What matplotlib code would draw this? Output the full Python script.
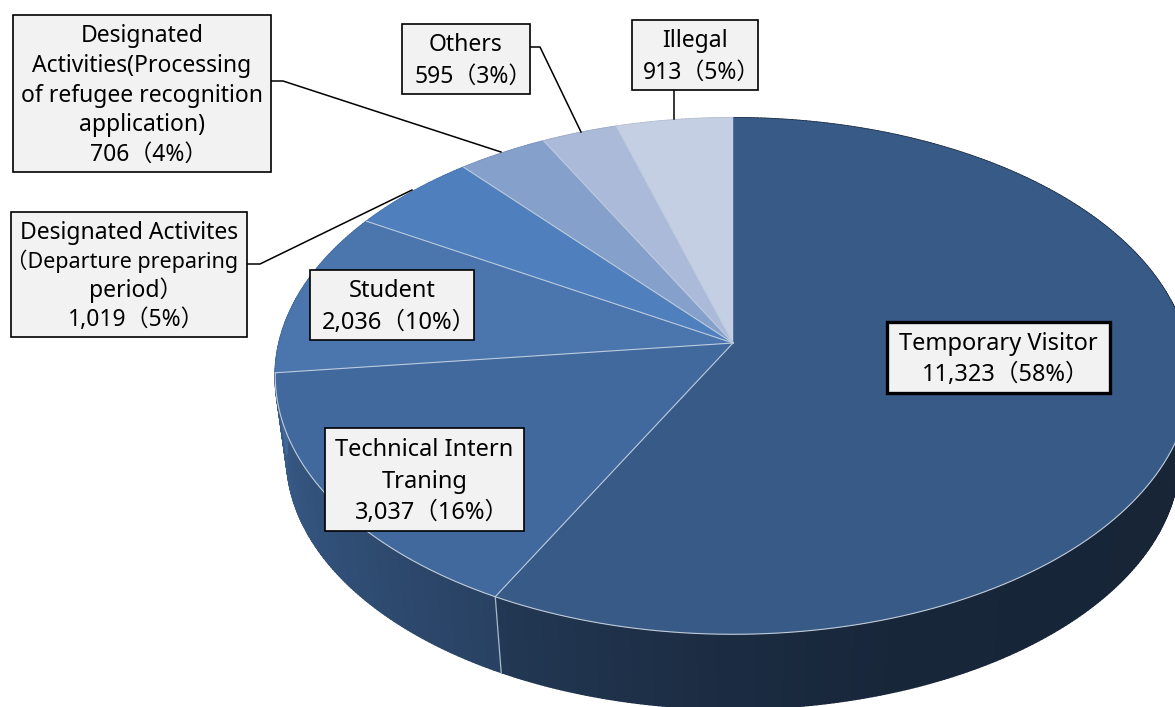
import numpy as np, matplotlib.pyplot as plt
from matplotlib.collections import PolyCollection
from matplotlib.patches import Rectangle

plt.rcParams['font.family'] = ['Noto Sans', 'Noto Sans CJK JP', 'DejaVu Sans']

# data, clockwise from the top
names = ["Temporary Visitor", "Technical Intern\nTraning", "Student",
         "Designated Activites\n（Departure preparing\nperiod）",
         "Designated\nActivities(Processing\nof refugee recognition\napplication)",
         "Others", "Illegal"]
counts = [11323, 3037, 2036, 1019, 706, 595, 913]
count_labels = ["11,323", "3,037", "2,036", "1,019", "706", "595", "913"]
percents = [58, 16, 10, 5, 4, 3, 5]
colors = ["#385a87", "#41699e", "#4a75ad", "#4f7fbc", "#85a0cb", "#abbad9", "#c4cfe3"]

# label boxes: left, top, right, bottom in pixels
boxes = [(887, 322, 1110, 393), (325, 428, 524, 531), (310, 270, 474, 340),
         (11, 212, 247, 337), (13, 15, 271, 172), (402, 24, 530, 94), (632, 20, 758, 90)]
box_widths = [2.4, 1.2, 1.2, 1.2, 1.2, 1.2, 1.2]
line_pitch = [32, 32, 32, 29, 29.7, 32.5, 32]
font_sizes = [17, 17, 17, 16.5, 16.5, 16.5, 16.5]
leaders = [None, None, None,
           ([248, 260, 412], [264, 264, 190]),
           ([271, 283, 501], [81, 81, 152]),
           ([530, 540, 581], [47, 47, 132]),
           ([674, 674], [90, 119])]

# tilted disc
cx, cy, rx, ry, k = 733, 343, 454, 254, 0.128
depth, shrink = 82, 0.975
shade_at = [90, 160, 180, 207, 263, 360]
shade_val = [0.40, 0.42, 0.48, 0.62, 0.88, 0.9]


def project(deg, scale=1.0, drop=0.0):
    t = np.radians(deg)
    u, v = np.sin(t), np.cos(t)
    w = 1 + k * v
    return cx + scale * rx * u / w, cy + drop - scale * ry * v / w


fig = plt.figure(figsize=(11.75, 7.07), dpi=100)
ax = fig.add_axes([0, 0, 1, 1])
ax.set_xlim(0, 1175)
ax.set_ylim(707, 0)
ax.axis("off")

edges = np.cumsum([0] + counts) / sum(counts) * 360

# side wall
quads, quad_colors = [], []
for i, c in enumerate(colors):
    base = np.array(plt.matplotlib.colors.to_rgb(c))
    angs = np.arange(edges[i], edges[i + 1] + 0.5, 0.5)
    angs[-1] = edges[i + 1]
    for a, b in zip(angs[:-1], angs[1:]):
        x0, y0 = project(a)
        x1, y1 = project(b)
        x2, y2 = project(b, shrink, depth)
        x3, y3 = project(a, shrink, depth)
        quads.append([(x0, y0), (x1, y1), (x2, y2), (x3, y3)])
        quad_colors.append(base * np.interp((a + b) / 2, shade_at, shade_val))
ax.add_collection(PolyCollection(quads, facecolors=quad_colors, edgecolors=quad_colors, linewidths=1.2, zorder=1))

# top face
for i, c in enumerate(colors):
    angs = np.linspace(edges[i], edges[i + 1], 200)
    x, y = project(angs)
    ax.fill(np.r_[cx, x], np.r_[cy, y], color=c, lw=0.3, zorder=2)

# separators
for e in edges[1:-1]:
    x, y = project(e)
    ax.plot([cx, x], [cy, y], color="#bccbdd", lw=0.8, zorder=3)
x0, y0 = project(edges[1])
x1, y1 = project(edges[1], shrink, depth)
ax.plot([x0, x1], [y0, y1], color="#a9b8c9", lw=0.9, zorder=3)

# light rim along the front
rim = np.linspace(90, edges[2], 400)
ax.plot(*project(rim), color="#c2ccd8", lw=0.8, zorder=3)

for lead in leaders:
    if lead:
        ax.plot(lead[0], lead[1], color="black", lw=1.1, zorder=4)

for i, name in enumerate(names):
    l, t, r, b = boxes[i]
    ax.add_patch(Rectangle((l, t), r - l, b - t, fc="#f2f2f2", ec="black", lw=box_widths[i], zorder=5))
    rows = f"{name}\n{count_labels[i]}（{percents[i]}%）".split("\n")
    for j, row in enumerate(rows):
        # the wide brackets carry blank space on their outer side
        nudge = 7 * row.endswith("）") - 7 * row.startswith("（")
        size = 15.5 if row.startswith("（") else font_sizes[i]
        y = (t + b) / 2 + (j - (len(rows) - 1) / 2) * line_pitch[i] + 8
        ax.text((l + r) / 2 + nudge, y, row, ha="center", va="baseline", fontsize=size, color="black", zorder=6)

fig.savefig("out.png", dpi=100)
